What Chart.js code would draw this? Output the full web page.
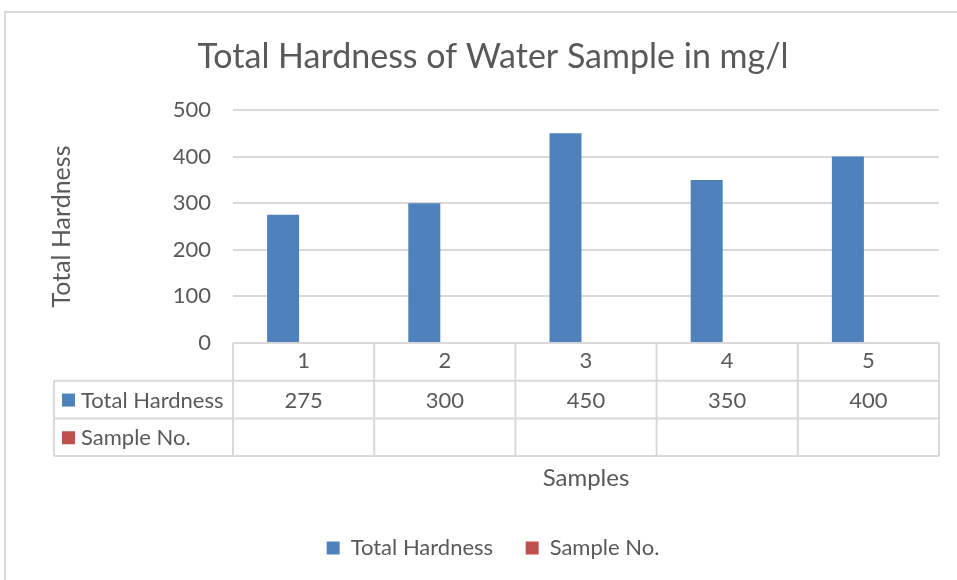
<!DOCTYPE html>
<html>
<head>
<meta charset="utf-8">
<title>Total Hardness of Water Sample</title>
<script src="https://cdn.jsdelivr.net/npm/chart.js@4.4.1/dist/chart.umd.min.js"></script>
<style>
    html, body { margin: 0; padding: 0; background: #ffffff; }
    #wrap { width: 957px; height: 580px; position: relative; }
</style>
</head>
<body>
<div id="wrap"><canvas id="hardnessChart"></canvas></div>
<script>
// ===================================
// DATA
// ===================================

const samples = ['1', '2', '3', '4', '5'];
const totalHardness = [275, 300, 450, 350, 400];
const sampleNo = [null, null, null, null, null];
const yTicks = [0, 100, 200, 300, 400, 500];

const colors = {
    blue: '#4F81BD',
    red: '#C0504D',
    text: '#595959',
    line: '#d9d9d9'
};

const FONT = "Lato, 'Open Sans', sans-serif";

// ===================================
// PLUGINS
// ===================================

// light frame round the whole chart (Excel chart border)
const framePlugin = {
    id: 'frame',
    beforeDraw(chart) {
        const ctx = chart.ctx;
        ctx.save();
        ctx.strokeStyle = colors.line;
        ctx.lineWidth = 2;
        ctx.beginPath();
        ctx.moveTo(5, chart.height + 5);
        ctx.lineTo(5, 12);
        ctx.lineTo(chart.width + 5, 12);
        ctx.stroke();
        ctx.restore();
    }
};

// data table under the x axis
const dataTablePlugin = {
    id: 'dataTable',
    afterDraw(chart) {
        const { ctx, chartArea, scales: { x } } = chart;
        const rowH = 37.7;
        const top = chartArea.bottom;
        const tableLeft = 54;
        const n = samples.length;
        const colW = (chartArea.right - chartArea.left) / n;
        const rows = chart.data.datasets.length;

        ctx.save();
        ctx.strokeStyle = colors.line;
        ctx.lineWidth = 2;
        ctx.beginPath();
        // header row top
        ctx.moveTo(chartArea.left, top);
        ctx.lineTo(chartArea.right, top);
        // row lines
        for (let r = 1; r <= rows + 1; r++) {
            ctx.moveTo(tableLeft, top + r * rowH);
            ctx.lineTo(chartArea.right, top + r * rowH);
        }
        // column lines
        for (let i = 0; i <= n; i++) {
            const xe = chartArea.left + i * colW;
            ctx.moveTo(xe, top);
            ctx.lineTo(xe, top + (rows + 1) * rowH);
        }
        ctx.moveTo(tableLeft, top + rowH);
        ctx.lineTo(tableLeft, top + (rows + 1) * rowH);
        ctx.stroke();

        // series rows
        ctx.font = '22px ' + FONT;
        ctx.textBaseline = 'middle';
        chart.data.datasets.forEach((ds, r) => {
            const cy = top + rowH * (r + 1) + rowH / 2;
            ctx.fillStyle = ds.backgroundColor;
            ctx.fillRect(tableLeft + 8, cy - 6, 13, 13);
            ctx.fillStyle = colors.text;
            ctx.textAlign = 'left';
            ctx.fillText(ds.label, tableLeft + 27, cy + 1);
            ctx.textAlign = 'center';
            ds.data.forEach((v, i) => {
                if (v === null) return;
                ctx.fillText(String(v), x.getPixelForValue(i), cy + 1);
            });
        });
        ctx.restore();
    }
};

// ===================================
// CHART
// ===================================

document.addEventListener('DOMContentLoaded', () => {
    Chart.defaults.font.family = FONT;
    Chart.defaults.color = colors.text;

    new Chart(document.getElementById('hardnessChart').getContext('2d'), {
        type: 'bar',
        data: {
            labels: samples,
            datasets: [
                {
                    label: 'Total Hardness',
                    data: totalHardness,
                    backgroundColor: colors.blue,
                    borderWidth: 0,
                    categoryPercentage: 0.581,
                    barPercentage: 0.78
                },
                {
                    label: 'Sample No.',
                    data: sampleNo,
                    backgroundColor: colors.red,
                    borderWidth: 0,
                    categoryPercentage: 0.581,
                    barPercentage: 0.78
                }
            ]
        },
        options: {
            responsive: true,
            maintainAspectRatio: false,
            animation: false,
            layout: { padding: { left: 47, right: 18, top: 0, bottom: 11 } },
            scales: {
                x: {
                    grid: { display: false, drawTicks: false },
                    border: { display: false },
                    ticks: { font: { size: 22 }, color: colors.text, padding: 5 },
                    title: {
                        display: true,
                        text: 'Samples',
                        font: { size: 24 },
                        color: colors.text,
                        padding: { top: 0, bottom: 34.6 }
                    },
                    afterFit: scale => { scale.height = 184; }
                },
                y: {
                    min: yTicks[0],
                    max: yTicks[yTicks.length - 1],
                    afterBuildTicks: scale => {
                        scale.ticks = yTicks.map(v => ({ value: v }));
                    },
                    grid: { color: colors.line, lineWidth: 2, drawTicks: false },
                    border: { display: false },
                    ticks: { font: { size: 22 }, color: colors.text, padding: 22 },
                    title: {
                        display: true,
                        text: 'Total Hardness',
                        font: { size: 25 },
                        color: colors.text,
                        padding: { top: 0, bottom: 0 }
                    },
                    afterFit: scale => { scale.width = 186; }
                }
            },
            plugins: {
                title: {
                    display: true,
                    text: 'Total Hardness of Water Sample in mg/l',
                    font: { size: 34, weight: 'normal' },
                    color: colors.text,
                    padding: { top: 37, bottom: 32.2 }
                },
                legend: {
                    position: 'bottom',
                    labels: {
                        boxWidth: 13,
                        boxHeight: 13,
                        padding: 10,
                        font: { size: 22 },
                        color: colors.text,
                        generateLabels(chart) {
                            const items = Chart.defaults.plugins.legend.labels.generateLabels(chart);
                            // wider gap between legend entries, as in the original
                            items.forEach((it, i) => {
                                it.lineWidth = 0;
                                if (i < items.length - 1) it.text += '    ';
                            });
                            return items;
                        }
                    }
                },
                tooltip: { enabled: false }
            }
        },
        plugins: [framePlugin, dataTablePlugin]
    });
});
</script>
</body>
</html>
